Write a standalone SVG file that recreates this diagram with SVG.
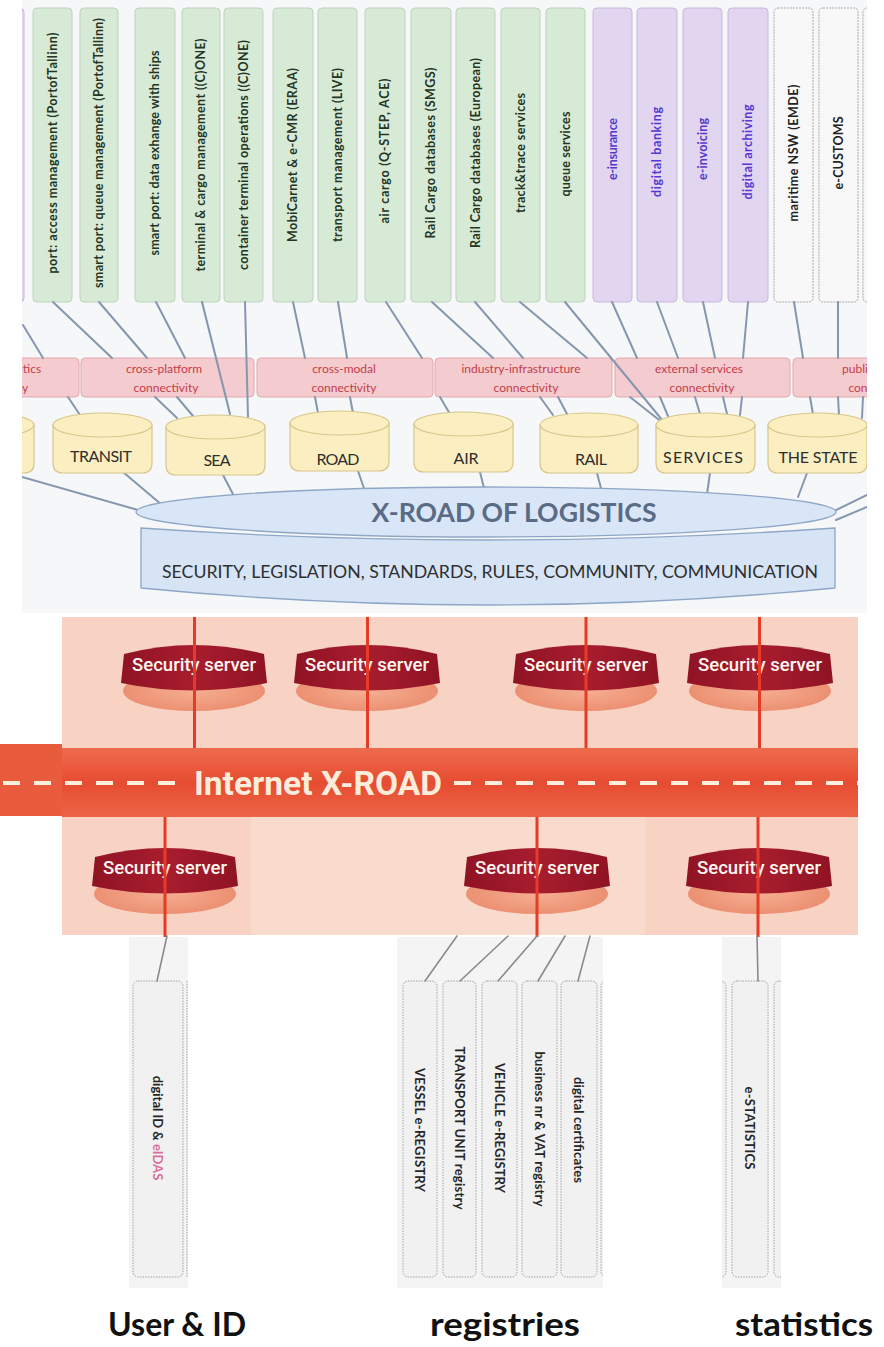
<svg xmlns="http://www.w3.org/2000/svg" width="884" height="1347" viewBox="0 0 884 1347">
  <defs>
    <style>
      .bx text { font-family: Lato, "Liberation Sans", sans-serif; font-size: 12.5px; font-weight: 700; text-anchor: middle; }
      .g rect { fill: #d7ead6; stroke: #bcd3bb; stroke-width: 1; }
      .g text { fill: #243524; }
      .p rect { fill: #e2d5ef; stroke: #c9b8de; stroke-width: 1; }
      .p text { fill: #5638cf; }
      .w rect { fill: #f8f8f8; stroke: #a9a9a9; stroke-width: 1; stroke-dasharray: 2 1; }
      .w text { fill: #222; }
      .band rect { fill: #f4cbce; stroke: #e3a9ae; stroke-width: 1; }
      .band text { font-family: Lato, "Liberation Sans", sans-serif; font-size: 12px; fill: #c63c4c; text-anchor: middle; }
      .cyl path, .cyl ellipse { fill: #fbefc2; stroke: #d8c68a; stroke-width: 1.2; }
      .cyl text { font-family: Lato, "Liberation Sans", sans-serif; font-size: 16px; fill: #2e2e2e; text-anchor: middle; }
      .ln { stroke: #8597ae; stroke-width: 2; fill: none; stroke-linecap: round; }
      .red { stroke: #e63b27; stroke-width: 3; }
      .gl { stroke: #8a8a8a; stroke-width: 1.6; stroke-linecap: round; }
      .ss .disk { fill: url(#ssDisk); }
      .ss .top { fill: url(#ssBand); }
      .ss text { font-family: Roboto, "DejaVu Sans", sans-serif; font-size: 18px; font-weight: 500; fill: #fff6f0; text-anchor: middle; }
      .rb rect { fill: #f1f1f1; stroke: #a3a3a3; stroke-width: 1; stroke-dasharray: 1.5 1.2; }
      .rb text { font-family: Lato, "Liberation Sans", sans-serif; font-size: 13px; font-weight: 700; fill: #262626; text-anchor: middle; }
      .panel { fill: #f4f4f4; }
      .lbl { font-family: Lato, "Liberation Sans", sans-serif; font-size: 33px; font-weight: 700; fill: #111; text-anchor: middle; }
    </style>
    <clipPath id="topClip"><rect x="22" y="0" width="845" height="613"/></clipPath>
    <clipPath id="regClip"><rect x="397" y="935" width="206" height="353"/></clipPath>
    <clipPath id="statClip"><rect x="722" y="935" width="59" height="353"/></clipPath>
    <linearGradient id="barGrad" x1="0" y1="0" x2="0" y2="1">
      <stop offset="0" stop-color="#ee6b4d"/>
      <stop offset="0.5" stop-color="#e64c31"/>
      <stop offset="1" stop-color="#ed6446"/>
    </linearGradient>
    <linearGradient id="ssBand" x1="0" y1="0" x2="1" y2="0">
      <stop offset="0" stop-color="#8f1324"/>
      <stop offset="0.5" stop-color="#a81d2e"/>
      <stop offset="1" stop-color="#8f1324"/>
    </linearGradient>
    <radialGradient id="ssDisk" cx="0.5" cy="0.5" r="0.6">
      <stop offset="0" stop-color="#f6ae92"/>
      <stop offset="1" stop-color="#ea8a6c"/>
    </radialGradient>
  </defs>

  <rect x="0" y="0" width="884" height="1347" fill="#ffffff"/>

  <!-- logistics layer -->
  <g id="logistics" clip-path="url(#topClip)">
    <rect x="22" y="0" width="845" height="613" fill="#f6f7f9"/>

    <!-- service boxes -->
    <g class="bx">
      <g id="box-left-edge" class="p"><rect x="-16" y="8" width="40" height="294" rx="4"/></g>
      <g id="box-port-access" class="g"><rect x="33" y="8" width="39" height="294" rx="4"/><text x="52.5" y="153" dy="0.35em" textLength="241" transform="rotate(-90 52.5 153)">port: access management (PortofTallinn)</text></g>
      <g id="box-smart-queue" class="g"><rect x="80" y="8" width="38" height="294" rx="4"/><text x="99" y="153" dy="0.35em" textLength="270" transform="rotate(-90 99 153)">smart port: queue management (PortofTallinn)</text></g>
      <g id="box-smart-data" class="g"><rect x="135" y="8" width="40" height="294" rx="4"/><text x="155" y="153" dy="0.35em" textLength="205" transform="rotate(-90 155 153)">smart port: data exhange with ships</text></g>
      <g id="box-terminal-cargo" class="g"><rect x="182" y="8" width="38" height="294" rx="4"/><text x="201" y="155" dy="0.35em" textLength="233" transform="rotate(-90 201 155)">terminal &amp; cargo management ((C)ONE)</text></g>
      <g id="box-container-terminal" class="g"><rect x="224" y="8" width="39" height="294" rx="4"/><text x="243.5" y="155" dy="0.35em" textLength="230" transform="rotate(-90 243.5 155)">container terminal operations ((C)ONE)</text></g>
      <g id="box-mobicarnet" class="g"><rect x="273" y="8" width="40" height="294" rx="4"/><text x="293" y="155" dy="0.35em" textLength="174" transform="rotate(-90 293 155)">MobiCarnet &amp; e-CMR (ERAA)</text></g>
      <g id="box-transport-mgmt" class="g"><rect x="318" y="8" width="39" height="294" rx="4"/><text x="337.5" y="155" dy="0.35em" textLength="174" transform="rotate(-90 337.5 155)">transport management (LIVE)</text></g>
      <g id="box-air-cargo" class="g"><rect x="365" y="8" width="40" height="294" rx="4"/><text x="385" y="151" dy="0.35em" textLength="145" transform="rotate(-90 385 151)">air cargo (Q-STEP, ACE)</text></g>
      <g id="box-rail-smgs" class="g"><rect x="411" y="8" width="40" height="294" rx="4"/><text x="431" y="153" dy="0.35em" textLength="171" transform="rotate(-90 431 153)">Rail Cargo databases (SMGS)</text></g>
      <g id="box-rail-european" class="g"><rect x="456" y="8" width="39" height="294" rx="4"/><text x="475.5" y="153" dy="0.35em" textLength="190" transform="rotate(-90 475.5 153)">Rail Cargo databases (European)</text></g>
      <g id="box-track-trace" class="g"><rect x="501" y="8" width="39" height="294" rx="4"/><text x="520.5" y="153" dy="0.35em" textLength="120" transform="rotate(-90 520.5 153)">track&amp;trace services</text></g>
      <g id="box-queue" class="g"><rect x="546" y="8" width="39" height="294" rx="4"/><text x="565.5" y="154" dy="0.35em" textLength="85" transform="rotate(-90 565.5 154)">queue services</text></g>
      <g id="box-e-insurance" class="p"><rect x="593" y="8" width="39" height="294" rx="4"/><text x="612.5" y="149" dy="0.35em" textLength="62" transform="rotate(-90 612.5 149)">e-insurance</text></g>
      <g id="box-digital-banking" class="p"><rect x="637" y="8" width="40" height="294" rx="4"/><text x="657" y="152" dy="0.35em" textLength="90" transform="rotate(-90 657 152)">digital banking</text></g>
      <g id="box-e-invoicing" class="p"><rect x="683" y="8" width="39" height="294" rx="4"/><text x="702.5" y="149" dy="0.35em" textLength="62" transform="rotate(-90 702.5 149)">e-invoicing</text></g>
      <g id="box-digital-archiving" class="p"><rect x="728" y="8" width="40" height="294" rx="4"/><text x="748" y="152" dy="0.35em" textLength="95" transform="rotate(-90 748 152)">digital archiving</text></g>
      <g id="box-maritime-nsw" class="w"><rect x="774" y="8" width="39" height="294" rx="4"/><text x="793.5" y="153" dy="0.35em" textLength="137" transform="rotate(-90 793.5 153)">maritime NSW (EMDE)</text></g>
      <g id="box-e-customs" class="w"><rect x="819" y="8" width="39" height="294" rx="4"/><text x="838.5" y="153" dy="0.35em" textLength="73" transform="rotate(-90 838.5 153)">e-CUSTOMS</text></g>
      <g id="box-right-edge" class="w"><rect x="863" y="8" width="39" height="294" rx="4"/></g>
    </g>

    <!-- connectivity band -->
    <g class="band">
      <g id="band-left"><rect x="-95" y="358" width="174" height="39" rx="4"/><text x="32" y="373">tics</text><text x="25" y="392">y</text></g>
      <g id="band-cross-platform"><rect x="81" y="358" width="173" height="39" rx="4"/><text x="164" y="373">cross-platform</text><text x="166" y="392">connectivity</text></g>
      <g id="band-cross-modal"><rect x="257" y="358" width="176" height="39" rx="4"/><text x="344" y="373">cross-modal</text><text x="344" y="392">connectivity</text></g>
      <g id="band-industry"><rect x="435" y="358" width="177" height="39" rx="4"/><text x="521" y="373">industry-infrastructure</text><text x="526" y="392">connectivity</text></g>
      <g id="band-external"><rect x="615" y="358" width="175" height="39" rx="4"/><text x="699" y="373">external services</text><text x="702" y="392">connectivity</text></g>
      <g id="band-public"><rect x="793" y="358" width="175" height="39" rx="4"/><text x="855" y="373">publi</text><text x="858" y="392">con</text></g>
    </g>

    <!-- links: services to connectivity band, band to sectors, sectors to X-Road -->
    <g id="connectors-logistics" class="ln">
      <line x1="23" y1="325" x2="43" y2="358"/>
      <line x1="53" y1="302" x2="112" y2="358"/>
      <line x1="99" y1="302" x2="147" y2="358"/>
      <line x1="156" y1="302" x2="185" y2="358"/>
      <line x1="202" y1="302" x2="230" y2="414"/>
      <line x1="245" y1="302" x2="248" y2="417"/>
      <line x1="293" y1="302" x2="305" y2="358"/>
      <line x1="338" y1="302" x2="347" y2="358"/>
      <line x1="386" y1="302" x2="422" y2="358"/>
      <line x1="432" y1="302" x2="493" y2="358"/>
      <line x1="475" y1="302" x2="523" y2="358"/>
      <line x1="520" y1="302" x2="587" y2="358"/>
      <line x1="565" y1="302" x2="663" y2="421"/>
      <line x1="612" y1="302" x2="637" y2="358"/>
      <line x1="657" y1="302" x2="678" y2="358"/>
      <line x1="703" y1="302" x2="715" y2="358"/>
      <line x1="748" y1="302" x2="743" y2="358"/>
      <line x1="794" y1="302" x2="803" y2="358"/>
      <line x1="838" y1="302" x2="838" y2="358"/>

      <line x1="68" y1="397" x2="80" y2="415"/>
      <line x1="155" y1="397" x2="177" y2="418"/>
      <line x1="177" y1="397" x2="193" y2="416"/>
      <line x1="315" y1="397" x2="318" y2="413"/>
      <line x1="350" y1="397" x2="353" y2="413"/>
      <line x1="440" y1="397" x2="450" y2="414"/>
      <line x1="540" y1="397" x2="553" y2="415"/>
      <line x1="558" y1="397" x2="567" y2="414"/>
      <line x1="630" y1="397" x2="663" y2="423"/>
      <line x1="660" y1="397" x2="668" y2="416"/>
      <line x1="695" y1="397" x2="700" y2="414"/>
      <line x1="723" y1="397" x2="727" y2="414"/>
      <line x1="742" y1="397" x2="740" y2="415"/>
      <line x1="810" y1="397" x2="813" y2="414"/>
      <line x1="838" y1="397" x2="839" y2="415"/>
      <line x1="863" y1="397" x2="862" y2="418"/>

      <line x1="22" y1="477" x2="145" y2="512"/>
      <line x1="123" y1="472" x2="162" y2="505"/>
      <line x1="222" y1="473" x2="236" y2="500"/>
      <line x1="358" y1="471" x2="366" y2="494"/>
      <line x1="480" y1="472" x2="485" y2="492"/>
      <line x1="597" y1="473" x2="602" y2="492"/>
      <line x1="710" y1="473" x2="707" y2="494"/>
      <line x1="807" y1="473" x2="798" y2="497"/>
      <line x1="867" y1="495" x2="830" y2="513"/>
      <line x1="867" y1="507" x2="836" y2="520"/>
    </g>

    <!-- sector cylinders -->
    <g class="cyl">
      <g id="cyl-left-edge"><path d="M-66,425 V463 Q-66,473 -56,473 H24 Q34,473 34,463 V425 Z"/><ellipse cx="-16" cy="425" rx="50" ry="12"/></g>
      <g id="cyl-transit"><path d="M53,425 V463 Q53,473 63,473 H142 Q152,473 152,463 V425 Z"/><ellipse cx="102.5" cy="425" rx="49.5" ry="12"/><text x="101" y="462" textLength="62">TRANSIT</text></g>
      <g id="cyl-sea"><path d="M166,427 V465 Q166,475 176,475 H255 Q265,475 265,465 V427 Z"/><ellipse cx="215.5" cy="427" rx="49.5" ry="12"/><text x="217" y="466" textLength="27">SEA</text></g>
      <g id="cyl-road"><path d="M290,423 V461 Q290,471 300,471 H379 Q389,471 389,461 V423 Z"/><ellipse cx="339.5" cy="423" rx="49.5" ry="12"/><text x="338" y="465" textLength="43">ROAD</text></g>
      <g id="cyl-air"><path d="M414,424 V462 Q414,472 424,472 H503 Q513,472 513,462 V424 Z"/><ellipse cx="463.5" cy="424" rx="49.5" ry="12"/><text x="466" y="464" textLength="25">AIR</text></g>
      <g id="cyl-rail"><path d="M540,425 V463 Q540,473 550,473 H628 Q638,473 638,463 V425 Z"/><ellipse cx="589" cy="425" rx="49" ry="12"/><text x="591" y="465" textLength="32">RAIL</text></g>
      <g id="cyl-services"><path d="M656,425 V463 Q656,473 666,473 H745 Q755,473 755,463 V425 Z"/><ellipse cx="705.5" cy="425" rx="49.5" ry="12"/><text x="703" y="463" textLength="80">SERVICES</text></g>
      <g id="cyl-the-state"><path d="M768,425 V463 Q768,473 778,473 H857 Q867,473 867,463 V425 Z"/><ellipse cx="817.5" cy="425" rx="49.5" ry="12"/><text x="818" y="463" textLength="79">THE STATE</text></g>
    </g>

    <!-- X-Road of logistics platform -->
    <g id="xroad-logistics">
      <path d="M141,528 V588 Q488,622 835,588 V528 Q488,552 141,528 Z" fill="#d6e4f6" stroke="#8fa7c6" stroke-width="1.3"/>
      <ellipse cx="486" cy="512" rx="350" ry="25" fill="#d9e6f7" stroke="#8fa7c6" stroke-width="1.3"/>
      <text x="514" y="522" textLength="285" lengthAdjust="spacingAndGlyphs" font-family="Lato, 'Liberation Sans', sans-serif" font-size="26" font-weight="700" fill="#5a6b85" text-anchor="middle">X-ROAD OF LOGISTICS</text>
      <text x="490" y="578" textLength="656" lengthAdjust="spacingAndGlyphs" font-family="Lato, 'Liberation Sans', sans-serif" font-size="18" fill="#2f2f2f" text-anchor="middle">SECURITY, LEGISLATION, STANDARDS, RULES, COMMUNITY, COMMUNICATION</text>
    </g>
  </g>

  <!-- X-Road transport layer -->
  <g id="xroad-panel">
    <rect x="62" y="617" width="796" height="318" fill="#f8d3c3"/>
    <rect x="251" y="817" width="394" height="118" fill="#f9dbcd"/>
  </g>

  <g id="internet-xroad">
    <rect x="0" y="744" width="62" height="72" fill="#e95b3d"/>
    <rect x="62" y="748" width="796" height="69" fill="url(#barGrad)"/>
    <line x1="3" y1="783" x2="188" y2="783" stroke="#fbeedd" stroke-width="4" stroke-dasharray="17 14"/>
    <line x1="454" y1="783" x2="858" y2="783" stroke="#fbeedd" stroke-width="4" stroke-dasharray="17 14"/>
    <text x="318" y="795" textLength="248" lengthAdjust="spacingAndGlyphs" font-family="Roboto, 'DejaVu Sans', sans-serif" font-size="33" font-weight="700" fill="#fcecdc" text-anchor="middle">Internet X-ROAD</text>
  </g>

  <!-- security servers, upper row -->
  <g id="ss-top-1" class="ss" transform="translate(194 645)">
    <ellipse class="disk" cx="0" cy="46" rx="71" ry="20"/>
    <path class="top" d="M-70,9 Q0,-9 70,9 L73,38 Q0,53 -73,38 Z"/>
    <text x="0" y="26" textLength="124" lengthAdjust="spacingAndGlyphs">Security server</text>
  </g>
  <g id="ss-top-2" class="ss" transform="translate(367 645)">
    <ellipse class="disk" cx="0" cy="46" rx="71" ry="20"/>
    <path class="top" d="M-70,9 Q0,-9 70,9 L73,38 Q0,53 -73,38 Z"/>
    <text x="0" y="26" textLength="124" lengthAdjust="spacingAndGlyphs">Security server</text>
  </g>
  <g id="ss-top-3" class="ss" transform="translate(586 645)">
    <ellipse class="disk" cx="0" cy="46" rx="71" ry="20"/>
    <path class="top" d="M-70,9 Q0,-9 70,9 L73,38 Q0,53 -73,38 Z"/>
    <text x="0" y="26" textLength="124" lengthAdjust="spacingAndGlyphs">Security server</text>
  </g>
  <g id="ss-top-4" class="ss" transform="translate(760 645)">
    <ellipse class="disk" cx="0" cy="46" rx="71" ry="20"/>
    <path class="top" d="M-70,9 Q0,-9 70,9 L73,38 Q0,53 -73,38 Z"/>
    <text x="0" y="26" textLength="124" lengthAdjust="spacingAndGlyphs">Security server</text>
  </g>

  <!-- security servers, lower row -->
  <g id="ss-bottom-1" class="ss" transform="translate(165 848)">
    <ellipse class="disk" cx="0" cy="46" rx="71" ry="20"/>
    <path class="top" d="M-70,9 Q0,-9 70,9 L73,38 Q0,53 -73,38 Z"/>
    <text x="0" y="26" textLength="124" lengthAdjust="spacingAndGlyphs">Security server</text>
  </g>
  <g id="ss-bottom-2" class="ss" transform="translate(537 848)">
    <ellipse class="disk" cx="0" cy="46" rx="71" ry="20"/>
    <path class="top" d="M-70,9 Q0,-9 70,9 L73,38 Q0,53 -73,38 Z"/>
    <text x="0" y="26" textLength="124" lengthAdjust="spacingAndGlyphs">Security server</text>
  </g>
  <g id="ss-bottom-3" class="ss" transform="translate(759 848)">
    <ellipse class="disk" cx="0" cy="46" rx="71" ry="20"/>
    <path class="top" d="M-70,9 Q0,-9 70,9 L73,38 Q0,53 -73,38 Z"/>
    <text x="0" y="26" textLength="124" lengthAdjust="spacingAndGlyphs">Security server</text>
  </g>

  <!-- red uplinks through the security servers -->
  <g id="connectors-xroad" class="red">
    <line x1="194.5" y1="617" x2="194.5" y2="748"/>
    <line x1="367.5" y1="617" x2="367.5" y2="748"/>
    <line x1="586" y1="617" x2="586" y2="748"/>
    <line x1="759.5" y1="617" x2="759.5" y2="748"/>
    <line x1="165" y1="817" x2="165" y2="937"/>
    <line x1="537" y1="817" x2="537" y2="937"/>
    <line x1="758" y1="817" x2="758" y2="937"/>
  </g>

  <!-- light backdrops behind the register columns -->
  <g id="register-backdrops" class="panel">
    <rect x="129" y="937" width="59" height="351"/>
    <rect x="397" y="937" width="206" height="351"/>
    <rect x="722" y="937" width="59" height="351"/>
  </g>

  <!-- user and identity -->
  <g id="group-user-id" class="rb">
    <line x1="187" y1="981" x2="187" y2="1277" stroke="#a3a3a3" stroke-dasharray="1.5 1.2"/>
    <g id="box-digital-id">
      <rect x="133" y="981" width="50" height="296" rx="5"/>
      <text x="158" y="1128" dy="0.35em" transform="rotate(90 158 1128)">digital ID &amp; <tspan fill="#d8709a">eIDAS</tspan></text>
    </g>
  </g>

  <!-- registries -->
  <g id="group-registries" class="rb" clip-path="url(#regClip)">
    <g id="box-vessel"><rect x="403" y="981" width="34" height="296" rx="5"/><text x="420" y="1130" dy="0.35em" textLength="124" transform="rotate(90 420 1130)">VESSEL e-REGISTRY</text></g>
    <g id="box-transport-unit"><rect x="443" y="981" width="33" height="296" rx="5"/><text x="459.5" y="1128" dy="0.35em" textLength="163" transform="rotate(90 459.5 1128)">TRANSPORT UNIT registry</text></g>
    <g id="box-vehicle"><rect x="482" y="981" width="35" height="296" rx="5"/><text x="499.5" y="1128" dy="0.35em" textLength="130" transform="rotate(90 499.5 1128)">VEHICLE e-REGISTRY</text></g>
    <g id="box-business-vat"><rect x="522" y="981" width="35" height="296" rx="5"/><text x="539.5" y="1129" dy="0.35em" textLength="155" transform="rotate(90 539.5 1129)">business nr &amp; VAT registry</text></g>
    <g id="box-certificates"><rect x="561" y="981" width="36" height="296" rx="5"/><text x="579" y="1130" dy="0.35em" textLength="106" transform="rotate(90 579 1130)">digital certificates</text></g>
    <g id="box-registry-edge"><rect x="601" y="981" width="36" height="296" rx="5"/></g>
  </g>

  <!-- statistics -->
  <g id="group-statistics" class="rb" clip-path="url(#statClip)">
    <g id="box-stat-edge-left"><rect x="690" y="981" width="36" height="296" rx="5"/></g>
    <g id="box-e-statistics"><rect x="732" y="981" width="36" height="296" rx="5"/><text x="750" y="1128" dy="0.35em" textLength="83" transform="rotate(90 750 1128)">e-STATISTICS</text></g>
    <g id="box-stat-edge-right"><rect x="774" y="981" width="36" height="296" rx="5"/></g>
  </g>

  <!-- lines from security servers down to the register boxes -->
  <g id="connectors-registers" class="gl">
    <line x1="167" y1="936" x2="157" y2="981"/>
    <line x1="457" y1="936" x2="425" y2="981"/>
    <line x1="508" y1="936" x2="460" y2="981"/>
    <line x1="537" y1="936" x2="498" y2="981"/>
    <line x1="565" y1="936" x2="538" y2="981"/>
    <line x1="590" y1="936" x2="578" y2="981"/>
    <line x1="757" y1="936" x2="758" y2="981"/>
  </g>

  <!-- group captions -->
  <g id="captions">
    <text class="lbl" x="177" y="1336" textLength="138" lengthAdjust="spacingAndGlyphs">User &amp; ID</text>
    <text class="lbl" x="505" y="1336" textLength="150" lengthAdjust="spacingAndGlyphs">registries</text>
    <text class="lbl" x="804" y="1336" textLength="138" lengthAdjust="spacingAndGlyphs">statistics</text>
  </g>
</svg>
